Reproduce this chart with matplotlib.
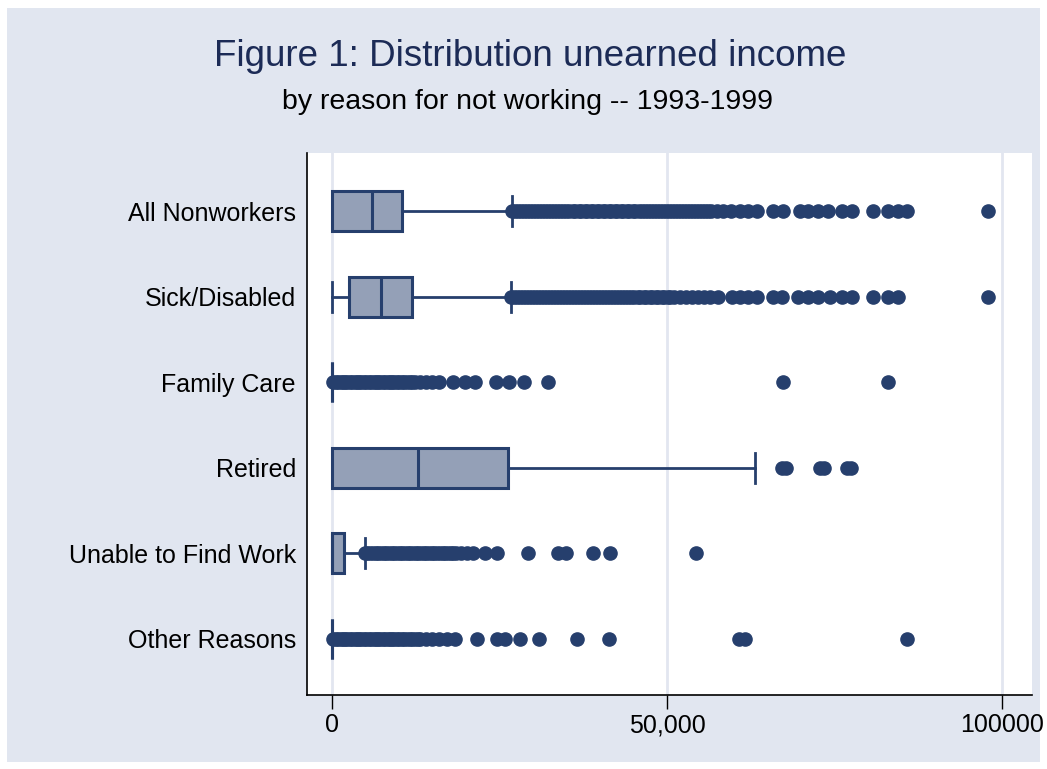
import matplotlib
matplotlib.use("Agg")
import matplotlib.pyplot as plt
from matplotlib.patches import Rectangle

plt.rcParams['font.family'] = ['Liberation Sans', 'DejaVu Sans']

categories = ['All Nonworkers', 'Sick/Disabled', 'Family Care', 'Retired',
              'Unable to Find Work', 'Other Reasons']

# box statistics
whislo = [0, 0, 0, 0, 0, 0]
q1 = [0, 2540, 0, 0, 0, 0]
med = [6000, 7300, 0, 12800, 0, 0]
q3 = [10450, 12000, 0, 26300, 1750, 0]
whishi = [26900, 26700, 0, 63100, 4900, 0]

# outside values
out_all = [26900, 27300, 27800, 28200, 28700, 29100, 29600, 30000, 30500, 30900,
           31400, 31800, 32300, 32700, 33200, 33600, 34100, 34500, 35000, 35400,
           35900, 36300, 36800, 37200, 37700, 38100, 38600, 39000, 39500, 39900,
           40400, 40800, 41300, 41700, 42200, 42600, 43100, 43500, 44000, 44400,
           44900, 45300, 45800, 46200, 46700, 47100, 47600, 48000, 48500, 48900,
           49400, 49800, 50300, 50700, 51200, 51600, 52100, 52500, 53000, 53400,
           53900, 54300, 54800, 55200, 55700, 56100, 56600, 57500, 58400, 59600,
           60900, 62100, 63400, 65800, 67300, 69900, 71000, 72500, 74000, 76100,
           77600, 80700, 83000, 84500, 85800, 97900]
out_sick = [26700, 27100, 27600, 28000, 28500, 28900, 29400, 29800, 30300, 30700,
            31200, 31600, 32100, 32500, 33000, 33400, 33900, 34300, 34800, 35200,
            35700, 36100, 36600, 37000, 37500, 37900, 38400, 38800, 39300, 39700,
            40200, 40600, 41100, 41500, 42000, 42400, 42900, 43300, 43800, 44200,
            44700, 45100, 45600, 46000, 46500, 46900, 47400, 47800, 48300, 48700,
            49200, 49600, 50100, 50500, 51000, 51900, 52800, 53700, 54600, 55500,
            56400, 57600, 59700, 60900, 62100, 63400, 65800, 67200, 69600, 71000,
            72500, 74300, 76100, 77600, 80700, 83000, 84500, 97900]
out_family = [200, 600, 900, 1300, 1600, 2000, 2300, 2700, 3000, 3400, 3700, 4100,
              4400, 4800, 5100, 5500, 5800, 6200, 6500, 6900, 7200, 7600, 7900,
              8300, 8600, 9000, 9300, 9700, 10000, 10400, 10800, 11200, 11600,
              12000, 12400, 13200, 14000, 15000, 16000,
              18000, 19900, 21300, 24500, 26400, 28700, 32200, 67300, 83000]
out_retired = [67200, 67800, 72800, 73400, 76800, 77500]
out_unable = [4900, 5300, 5700, 6100, 6500, 6900, 7300, 7700, 8100, 8500, 8900,
              9300, 9700, 10100, 10500, 10900, 11300, 11700, 12100, 12500, 12900,
              13300, 13700, 14100, 14500, 14900, 15300, 15700, 16100, 16500, 16900,
              17300, 17700, 18100, 18500, 19300, 20200, 21000,
              22800, 24600, 29300, 33700, 34900, 39000, 41500, 54300]
out_other = [200, 600, 900, 1300, 1600, 2000, 2300, 2700, 3000, 3400, 3700, 4100,
             4400, 4800, 5100, 5500, 5800, 6200, 6500, 6900, 7200, 7600, 7900,
             8300, 8600, 9000, 9300, 9700, 10000, 10400, 10800, 11200, 11600,
             12000, 12400, 12800, 13200, 14000, 15000, 16000,
             17200, 18400, 21600, 24600, 25800, 28100, 30900, 36600, 41300, 60700,
             61600, 85800]
fliers = [out_all, out_sick, out_family, out_retired, out_unable, out_other]

xticks = [0, 50000, 100000]
xticklabels = ['0', '50,000', '100000']

navy = '#263f6d'
boxfill = '#94a0b7'
bg = '#e1e6f0'

fig = plt.figure(figsize=(10.47, 7.69), dpi=100)
fig.patch.set_facecolor('white')
fig.patches.append(Rectangle((0.0067, 0.0091), 0.9866, 0.9805, transform=fig.transFigure,
                             facecolor=bg, edgecolor='none', zorder=-10))

ax = fig.add_axes([0.2932, 0.0962, 0.6925, 0.7048])
ax.set_facecolor('white')

stats = []
for i in range(len(categories)):
    stats.append(dict(whislo=whislo[i], q1=q1[i], med=med[i], q3=q3[i],
                      whishi=whishi[i], fliers=fliers[i], label=categories[i]))

ax.bxp(stats, positions=range(1, 7), orientation='horizontal', widths=0.47,
       capwidths=0.35, patch_artist=True,
       boxprops=dict(facecolor=boxfill, edgecolor=navy, linewidth=2.2),
       medianprops=dict(color=navy, linewidth=2.2),
       whiskerprops=dict(color=navy, linewidth=2),
       capprops=dict(color=navy, linewidth=2),
       flierprops=dict(marker='o', markerfacecolor=navy, markeredgecolor=navy,
                       markersize=9.5, linestyle='none'))

ax.set_xlim(-3730, 104480)
ax.set_ylim(6.66, 0.32)
ax.set_xticks(xticks)
ax.set_xticklabels(xticklabels, fontsize=18)
ax.set_yticks(range(1, 7))
ax.set_yticklabels(categories, fontsize=18)
ax.tick_params(axis='y', length=0, pad=8)
ax.tick_params(axis='x', length=10, width=1, pad=3, color='black')
ax.grid(axis='x', color='#e2e6f0', linewidth=2)
ax.set_axisbelow(True)
for s in ['top', 'right']:
    ax.spines[s].set_visible(False)
for s in ['left', 'bottom']:
    ax.spines[s].set_color('black')
    ax.spines[s].set_linewidth(1.2)

fig.text(0.506, 0.926, 'Figure 1: Distribution unearned income', ha='center', va='center',
         fontsize=26.5, color='#1c2b56')
fig.text(0.504, 0.868, 'by reason for not working -- 1993-1999', ha='center', va='center',
         fontsize=20.5, color='black')

fig.savefig('out.png', dpi=100)
